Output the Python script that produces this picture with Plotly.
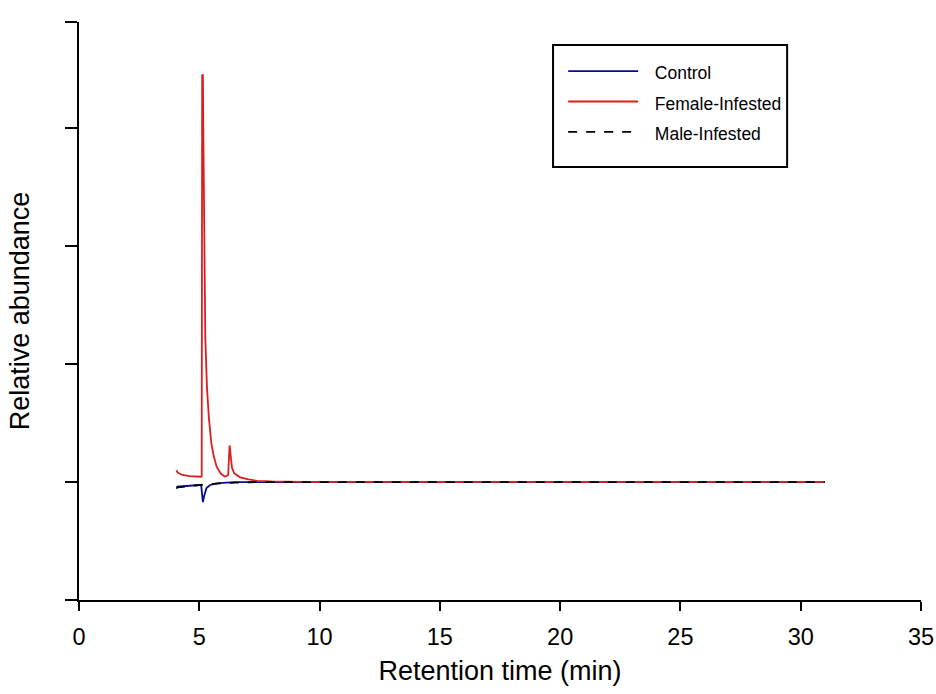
import plotly.graph_objects as go

# Female-Infested (red)
female_t = [4.05, 4.10, 4.30, 4.60, 5.05, 5.10, 5.12, 5.15, 5.17, 5.20, 5.25, 5.32, 5.40,
            5.50, 5.60, 5.72, 5.90, 6.07, 6.20, 6.26, 6.30, 6.36, 6.45, 6.70, 7.00, 7.40,
            8.00, 10.0, 31.0]
female_y = [1.10, 1.08, 1.06, 1.05, 1.045, 1.05, 4.45, 4.45, 3.93, 2.99, 2.22, 1.80, 1.54,
            1.33, 1.22, 1.13, 1.07, 1.045, 1.06, 1.31, 1.25, 1.12, 1.075, 1.04, 1.025, 1.01,
            1.005, 1.0, 1.0]

# Control (blue)
control_t = [4.05, 4.50, 5.00, 5.08, 5.15, 5.20, 5.30, 5.45, 5.80, 6.50, 31.0]
control_y = [0.96, 0.97, 0.975, 0.97, 0.83, 0.88, 0.95, 0.975, 0.99, 1.0, 1.0]

# Male-Infested (black dashed)
male_t = [4.05, 4.10, 4.60, 5.00, 5.50, 6.50, 7.50, 31.0]
male_y = [0.945, 0.955, 0.965, 0.975, 0.985, 0.995, 1.0, 1.0]

series_names = ["Control", "Female-Infested", "Male-Infested"]
x_ticks = [0, 5, 10, 15, 20, 25, 30, 35]
y_ticks = [0, 1, 2, 3, 4, 4.9]


def legend_label(s):
    return '&nbsp;&nbsp;<span style="font-size:17.5px">' + s + '</span>'


fig = go.Figure()
fig.add_trace(go.Scatter(x=control_t, y=control_y, mode="lines", name=legend_label(series_names[0]),
                         line=dict(color="#0a0a9a", width=1.8)))
fig.add_trace(go.Scatter(x=female_t, y=female_y, mode="lines", name=legend_label(series_names[1]),
                         line=dict(color="#dd1e1e", width=1.8)))
fig.add_trace(go.Scatter(x=male_t, y=male_y, mode="lines", name=legend_label(series_names[2]),
                         line=dict(color="#000000", width=1.8, dash="dash")))

# legend frame
fig.add_shape(type="rect", xref="paper", yref="paper",
              x0=0.563, x1=0.841, y0=0.749, y1=0.960,
              line=dict(color="black", width=2), fillcolor="rgba(0,0,0,0)", layer="above")

font_family = "Liberation Sans, Arial, sans-serif"
fig.update_layout(
    width=936, height=694,
    margin=dict(l=79, r=15, t=22, b=94),
    paper_bgcolor="white", plot_bgcolor="white",
    font=dict(family=font_family, color="black"),
    showlegend=True,
    legend=dict(x=0.575, y=0.961, xanchor="left", yanchor="top",
                borderwidth=0, bgcolor="rgba(0,0,0,0)",
                font=dict(size=21, family=font_family), itemwidth=70,
                title=dict(text="&nbsp;", font=dict(size=5)),
                traceorder="normal"),
    xaxis=dict(range=[0, 35], tickvals=x_ticks, ticktext=[str(v) for v in x_ticks],
               showline=True, linecolor="black", linewidth=2,
               ticks="outside", ticklen=9, tickwidth=2, tickcolor="black",
               showgrid=False, zeroline=False, automargin=False,
               tickfont=dict(size=23.5, family=font_family), ticklabelstandoff=6,
               title=dict(text="Retention time (min)", font=dict(size=27, family=font_family),
                          standoff=12)),
    yaxis=dict(range=[0, 4.9], tickvals=y_ticks, showticklabels=False,
               showline=True, linecolor="black", linewidth=2,
               ticks="outside", ticklen=12, tickwidth=2, tickcolor="black",
               showgrid=False, zeroline=False, automargin=False,
               title=dict(text="Relative abundance", font=dict(size=27, family=font_family),
                          standoff=28)),
)

fig.write_html("out.html",
               config={"displayModeBar": False},
               post_script="document.body.style.margin='0';document.body.style.overflow='hidden';")
